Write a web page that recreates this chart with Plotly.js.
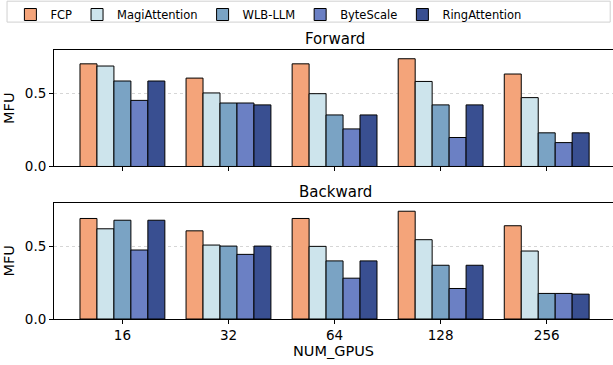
<!DOCTYPE html>
<html>
<head>
<meta charset="utf-8">
<script src="https://cdn.plot.ly/plotly-3.0.1.min.js"></script>
<style>html,body{margin:0;padding:0;background:#fff}#chart{width:613px;height:365px}</style>
</head>
<body>
<div id="chart"></div>
<script>
const categories = ["16", "32", "64", "128", "256"];
const methods = ["FCP", "MagiAttention", "WLB-LLM", "ByteScale", "RingAttention"];
const colors = ["#F4A47A", "#CDE4EC", "#7AA3C4", "#6B80C4", "#394F91"];

const forwardFCP  = [0.705, 0.607, 0.705, 0.740, 0.635];
const forwardMagi = [0.690, 0.505, 0.500, 0.584, 0.473];
const forwardWLB  = [0.587, 0.436, 0.354, 0.423, 0.231];
const forwardByte = [0.454, 0.436, 0.258, 0.199, 0.164];
const forwardRing = [0.587, 0.423, 0.354, 0.423, 0.231];

const backwardFCP  = [0.692, 0.607, 0.692, 0.742, 0.642];
const backwardMagi = [0.621, 0.509, 0.500, 0.546, 0.468];
const backwardWLB  = [0.680, 0.502, 0.400, 0.370, 0.176];
const backwardByte = [0.475, 0.445, 0.281, 0.210, 0.176];
const backwardRing = [0.680, 0.502, 0.400, 0.370, 0.171];

const forward = [forwardFCP, forwardMagi, forwardWLB, forwardByte, forwardRing];
const backward = [backwardFCP, backwardMagi, backwardWLB, backwardByte, backwardRing];

const traces = [];
methods.forEach((m, i) => {
  traces.push({type: "bar", name: m, x: categories, y: forward[i], xaxis: "x", yaxis: "y",
    marker: {color: colors[i], line: {color: "#000", width: 1}}, legendgroup: m, showlegend: true});
});
methods.forEach((m, i) => {
  traces.push({type: "bar", name: m, x: categories, y: backward[i], xaxis: "x2", yaxis: "y2",
    marker: {color: colors[i], line: {color: "#000", width: 1}}, legendgroup: m, showlegend: false});
});

const font = {family: "DejaVu Sans", color: "#000"};
const xr = [-0.645, 4.625];
const yax = {range: [0, 0.8], tickvals: [0, 0.5], ticktext: ["0.0", "0.5"], ticks: "outside", ticklen: 4,
  tickcolor: "#000", showline: true, linecolor: "#000", linewidth: 1, mirror: true,
  showgrid: true, gridcolor: "#c4c4c4", griddash: "dot", gridwidth: 0.7, zeroline: false,
  tickfont: {family: "DejaVu Sans", size: 13.5, color: "#000"},
  title: {text: "MFU", font: {family: "DejaVu Sans", size: 14.5, color: "#000"}, standoff: 6}};

const layout = {
  width: 613, height: 365,
  margin: {l: 54, r: 0, t: 49, b: 46},
  paper_bgcolor: "#fff", plot_bgcolor: "#fff",
  font: font,
  barmode: "group", bargap: 0.2, bargroupgap: 0,
  showlegend: true,
  legend: {orientation: "h", x: -0.078, y: 1.188, xanchor: "left", yanchor: "top",
    font: {family: "DejaVu Sans", size: 11.5, color: "#000"}, borderwidth: 0, bgcolor: "rgba(0,0,0,0)",
    itemwidth: 30, tracegroupgap: 0},
  xaxis: {type: "category", range: xr, domain: [0, 1], anchor: "y", showticklabels: false,
    ticks: "outside", ticklen: 4, tickcolor: "#000", showline: true, linecolor: "#000", linewidth: 1,
    mirror: true, showgrid: false},
  yaxis: Object.assign({}, yax, {domain: [0.567, 1], anchor: "x"}),
  xaxis2: {type: "category", range: xr, domain: [0, 1], anchor: "y2", showticklabels: true,
    ticks: "outside", ticklen: 4, tickcolor: "#000", showline: true, linecolor: "#000", linewidth: 1,
    mirror: true, showgrid: false, tickfont: {family: "DejaVu Sans", size: 13.5, color: "#000"},
    title: {text: "NUM_GPUS", font: {family: "DejaVu Sans", size: 14.5, color: "#000"}, standoff: 2}},
  yaxis2: Object.assign({}, yax, {domain: [0, 0.432], anchor: "x2"}),
  annotations: [
    {text: "Forward", xref: "paper", yref: "paper", x: 0.503, y: 1.0, yanchor: "bottom", yshift: 0,
      showarrow: false, font: {family: "DejaVu Sans", size: 15, color: "#000"}},
    {text: "Backward", xref: "paper", yref: "paper", x: 0.503, y: 0.432, yanchor: "bottom", yshift: 0,
      showarrow: false, font: {family: "DejaVu Sans", size: 15, color: "#000"}}
  ],
  shapes: [
    {type: "rect", xref: "paper", yref: "paper", x0: -0.084, x1: 0.995, y0: 1.1037, y1: 1.1815,
      line: {color: "#d0d0d0", width: 1}, fillcolor: "rgba(0,0,0,0)", layer: "below"}
  ]
};

Plotly.newPlot("chart", traces, layout, {displayModeBar: false, staticPlot: true});
</script>
</body>
</html>
